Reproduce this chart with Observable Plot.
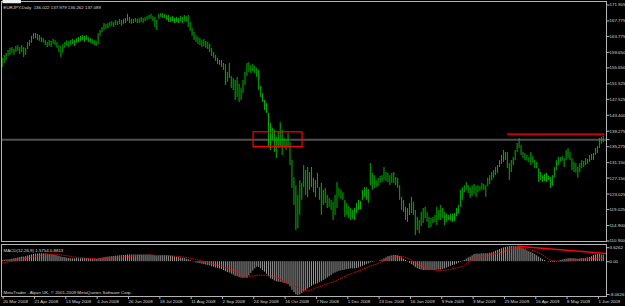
<!DOCTYPE html>
<html><head><meta charset="utf-8">
<script src="https://cdn.jsdelivr.net/npm/d3@7"></script>
<script src="https://cdn.jsdelivr.net/npm/@observablehq/plot@0.6"></script>
<style>
html,body{margin:0;padding:0;background:#000;}
#chart{position:relative;width:625px;height:306px;background:#000;overflow:hidden;}
#chart svg{position:absolute;left:0;display:block;overflow:visible;}
</style></head><body><div id="chart"></div>
<script>
const symbolTitle = "EURJPY,Daily  136.022 137.979 136.262 137.089";
const macdTitle = "MACD(12,26,9) 1.5754 0.8813";
const copyright = "MetaTrader - Alpari UK, \u00a9 2001-2009 MetaQuotes Software Corp.";

const highs = [
158.1,158.9,159.4,160.1,160.7,160.9,160.4,161.2,161.4,160.9,
161.4,160.9,160.7,162.2,162.7,163.8,164.5,164.5,164.3,164.0,
163.5,163.2,162.7,162.2,162.7,162.5,163.0,162.7,162.2,161.4,
161.2,161.7,162.2,162.7,162.5,162.7,163.0,162.7,163.2,163.5,
163.8,164.0,163.8,164.0,163.5,163.2,163.0,162.7,162.5,164.5,
165.3,166.1,167.1,166.9,167.1,167.4,167.6,167.4,167.9,167.6,
168.2,167.9,168.2,168.4,169.5,168.7,168.2,168.2,168.4,168.2,
168.4,168.7,168.4,168.7,168.9,169.2,169.5,168.9,168.7,167.9,
169.5,169.7,169.7,169.5,169.2,169.2,168.7,168.9,168.4,168.7,
168.4,168.9,168.7,169.2,168.9,169.2,167.4,165.8,164.8,164.0,
163.5,163.2,162.7,163.0,162.5,162.2,161.7,160.7,159.6,158.9,
158.1,157.6,157.6,156.8,156.5,154.5,156.8,153.4,152.9,152.4,
153.2,151.4,150.3,152.4,154.5,156.8,157.0,156.3,156.5,156.0,
155.5,155.0,150.8,149.0,147.2,146.4,143.9,141.3,140.0,139.5,
137.7,138.9,141.5,139.5,137.4,136.9,138.7,136.4,131.7,127.3,
125.2,122.7,126.5,125.8,130.4,129.1,129.9,128.6,129.9,127.1,
126.5,128.4,124.7,125.8,124.0,124.5,122.7,121.9,121.4,120.9,
122.7,126.0,124.5,124.0,123.4,121.4,120.6,119.8,119.3,118.8,
119.3,120.6,121.4,121.1,124.0,124.7,124.7,124.2,130.9,128.4,
127.8,126.5,127.1,127.6,127.8,129.9,128.6,128.4,127.8,128.4,
128.6,127.3,127.1,125.2,122.2,121.4,119.6,119.3,120.6,122.2,
120.9,118.8,117.0,116.2,118.3,119.3,119.6,118.3,117.0,116.7,
117.0,117.5,119.6,118.8,120.1,119.3,118.3,117.8,117.5,117.8,
117.8,118.0,119.3,120.1,124.0,124.7,125.2,126.0,125.2,124.7,
125.2,125.5,125.0,125.2,125.0,125.8,125.5,125.2,127.1,127.8,
128.6,129.1,129.9,130.4,131.7,133.0,134.3,133.8,133.8,130.9,
131.7,132.5,134.3,136.1,137.4,135.6,133.8,133.5,133.0,132.5,
133.8,132.7,131.7,131.2,129.6,128.6,127.8,128.1,128.4,127.6,
127.3,127.8,129.9,131.7,132.5,132.5,132.7,132.2,134.3,134.8,
133.8,132.2,131.2,130.9,129.9,130.9,131.7,131.5,132.2,132.0,
133.0,133.3,133.5,134.8,135.3,137.4,137.7,137.979];

const lows = [
155.7,156.8,157.6,158.6,158.9,159.4,158.9,159.6,159.9,159.1,
159.6,158.3,158.9,160.4,161.2,162.0,163.0,163.2,162.7,162.5,
162.2,162.0,161.4,160.9,161.2,160.9,161.7,161.4,160.7,159.6,
158.3,159.4,160.7,161.2,160.9,161.4,161.7,161.2,162.0,162.2,
162.5,162.7,162.2,162.7,162.2,162.0,161.7,161.4,161.2,161.7,
163.8,164.8,165.3,165.6,165.8,166.1,166.4,166.1,166.6,166.6,
166.9,166.4,166.9,167.1,167.6,167.1,166.9,167.1,167.4,167.1,
167.1,167.4,167.1,167.6,167.9,168.2,168.2,167.6,166.1,165.3,
168.2,168.7,168.4,168.4,167.9,167.4,167.4,167.6,167.1,167.4,
167.1,167.6,167.1,167.6,167.4,166.1,165.1,163.8,162.7,162.2,
161.7,161.4,160.9,161.2,160.7,160.4,159.6,158.6,158.1,157.3,
156.5,156.3,155.8,155.0,151.1,151.9,152.9,150.3,149.8,147.2,
148.0,146.7,147.2,149.0,151.1,153.4,154.5,154.2,154.7,154.2,
153.2,149.8,148.0,146.7,144.6,143.9,135.1,134.3,136.9,133.8,
132.2,134.8,135.1,133.0,134.8,134.3,134.8,130.4,124.5,120.1,
113.6,114.1,117.5,121.4,124.7,122.7,122.1,124.0,124.7,123.4,
122.2,124.5,121.4,117.5,120.1,120.6,119.3,119.6,118.8,116.2,
117.5,119.3,122.2,121.6,121.4,117.0,117.5,116.7,116.2,116.5,
116.2,118.0,118.8,119.0,121.4,122.2,121.4,120.6,125.2,124.0,
124.5,124.7,125.0,125.8,126.0,126.5,126.3,126.0,125.2,125.8,
125.8,125.2,124.5,121.4,118.8,118.3,116.2,115.7,117.5,118.0,
117.5,112.3,113.6,112.8,114.6,115.4,116.7,115.7,114.1,114.4,
115.4,115.7,114.9,116.2,116.2,116.7,114.9,115.7,116.2,116.0,
115.7,116.0,117.2,117.8,119.6,121.4,123.4,124.0,123.2,121.9,
122.4,122.9,122.2,123.4,123.7,124.0,124.0,122.2,125.0,125.5,
126.5,127.1,127.8,128.4,129.9,130.7,131.2,131.7,129.6,126.5,
128.6,130.4,131.7,133.8,134.8,133.0,132.2,131.7,131.5,131.2,
130.4,130.9,129.6,129.6,126.0,126.5,126.0,126.3,126.0,126.5,
124.5,125.0,127.3,129.1,130.4,131.2,131.5,129.9,131.7,132.2,
131.7,129.1,128.6,128.4,127.1,128.6,129.6,129.9,130.4,130.7,
131.2,131.7,131.7,133.0,133.5,134.8,135.9,136.262];

const macdMain = [
0.3,0.35,0.4,0.4,0.5,0.6,0.7,0.8,0.9,1.0,
1.1,1.1,1.2,1.4,1.5,1.6,1.7,1.8,1.85,1.9,
1.9,1.9,1.85,1.8,1.7,1.65,1.6,1.5,1.4,1.25,
1.1,1.0,0.95,0.85,0.75,0.7,0.7,0.7,0.75,0.7,
0.7,0.75,0.7,0.7,0.7,0.65,0.65,0.6,0.55,0.65,
0.75,0.85,0.95,1.05,1.1,1.15,1.2,1.25,1.3,1.35,
1.4,1.45,1.5,1.5,1.6,1.6,1.6,1.6,1.6,1.6,
1.6,1.6,1.6,1.6,1.6,1.6,1.55,1.5,1.4,1.3,
1.35,1.4,1.45,1.45,1.4,1.35,1.3,1.25,1.15,1.05,
0.95,0.9,0.8,0.75,0.6,0.45,0.3,0.1,-0.1,-0.3,
-0.4,-0.5,-0.6,-0.7,-0.8,-0.9,-1.0,-1.2,-1.35,-1.5,
-1.6,-1.75,-1.9,-2.1,-2.4,-2.6,-2.7,-3.0,-3.2,-3.5,
-3.6,-3.8,-3.9,-4.0,-3.9,-4.0,-3.4,-2.8,-2.2,-1.7,
-1.3,-1.4,-1.7,-2.1,-2.5,-3.0,-3.6,-4.1,-4.3,-4.6,
-4.8,-4.9,-4.9,-5.0,-5.2,-5.3,-5.5,-6.0,-6.8,-7.4,
-7.9,-8.0626,-7.9,-7.6,-7.2,-6.9,-6.5,-6.2,-5.9,-5.6,
-5.4,-5.3,-5.0,-4.8,-4.5,-4.2,-3.9,-3.6,-3.3,-2.9,
-2.7,-2.5,-2.3,-2.2,-2.1,-2.0,-1.9,-1.8,-1.7,-1.7,
-1.7,-1.6,-1.5,-1.3,-1.1,-0.9,-0.7,-0.5,-0.3,-0.2,
-0.1,0.0,0.0,0.2,0.4,0.7,0.9,1.2,1.3,1.4,
1.5,1.5,1.4,1.2,0.9,0.6,0.3,-0.1,-0.4,-0.7,
-1.0,-1.4,-1.7,-1.9,-2.0,-2.1,-2.1,-2.1,-2.1,-2.1,
-2.1,-2.1,-2.0,-2.0,-2.0,-1.9,-1.7,-1.5,-1.3,-1.1,
-0.9,-0.8,-0.6,-0.4,-0.2,0.1,0.3,0.6,0.9,1.1,
1.4,1.7,1.8,1.8,1.8,1.9,1.9,1.9,1.9,2.0,
2.1,2.3,2.5,2.7,2.9,3.1,3.3,3.4,3.5,3.6,
3.6262,3.6,3.6,3.5,3.4,3.3,3.1,2.9,2.6,2.4,
2.2,1.96,1.7,1.4,1.1,0.8,0.5,0.3,0.0,-0.1,
-0.2,-0.2,-0.2,-0.1,0.1,0.3,0.4,0.5,0.6,0.7,
0.75,0.7,0.7,0.65,0.6,0.65,0.7,0.7,0.8,0.9,
1.0,1.2,1.5,1.6,1.7,1.8,1.6,1.5754];

const signalBars = [0,4,8,12,16,20,24,28,32,36,40,44,48,52,56,60,64,68,72,76,80,84,88,92,96,100,
104,108,112,116,120,124,128,132,136,140,144,148,152,156,160,164,168,172,176,180,184,188,192,196,200,
204,208,212,216,220,224,228,232,236,240,244,248,252,256,260,264,268,272,276,280,284,288,292,296,300,304,307];
const signalValues = [-0.3,0.0,0.4,0.8,1.2,1.5,1.7,1.7,1.5,1.2,0.95,0.8,0.7,0.7,0.85,1.05,1.25,1.4,1.5,1.55,1.5,1.45,1.35,1.15,0.85,0.4,
-0.1,-0.6,-1.1,-1.7,-2.4,-3.5,-3.4,-3.2,-3.3,-3.7,-4.7,-5.5,-6.4,-6.95,-6.3,-5.6,-5.0,-4.2,-3.3,-2.6,-1.8,-1.1,-0.4,0.5,1.1,
1.24,0.6,-0.5,-1.5,-1.9,-2.1,-1.9,-1.5,-0.9,0.5,1.1,1.5,1.9,2.4,3.1,3.3,3.1,2.5,1.6,0.4,0.1,0.05,0.3,0.6,0.7,0.8,0.8813];

const dateLabels = ["20 Mar 2008","21 Apr 2008","13 May 2008","4 Jun 2008","26 Jun 2008","18 Jul 2008","11 Aug 2008",
"2 Sep 2008","24 Sep 2008","16 Oct 2008","7 Nov 2008","1 Dec 2008","23 Dec 2008","16 Jan 2009","9 Feb 2009",
"3 Mar 2009","25 Mar 2009","16 Apr 2009","8 May 2009","1 Jun 2009"];
const dateLabelBars = [0,16,32,48,64,80,96,112,128,144,160,176,192,208,224,240,256,272,288,304];

const priceTicks = [171.905,167.775,163.775,159.650,155.650,151.525,147.525,143.400,139.275,135.275,131.150,127.150,123.025,119.025,114.900,110.900];
const macdTopTick = [3.6262];
const macdMidTick = [0];
const macdBottomTick = [-8.0626];
const lastPrice = 137.089;

// annotations drawn by hand on the original chart
const highlightBox = [{from: 128.4, to: 153.4, low: 135.2, high: 139.0}];
const resistanceLine = [{from: 258.1, to: 307.9, price: 138.5}];
const macdTrendBars = [263.2, 308.5];
const macdTrendValues = [3.68, 1.95];

// ---------- build ----------
const bars = highs.map((h, i) => ({i, high: h, low: lows[i]}));
const macdRows = macdMain.map((v, i) => ({i, v}));
const signalRows = signalBars.map((b, k) => ({i: b, v: signalValues[k]}));
const trendRows = macdTrendBars.map((b, k) => ({i: b, v: macdTrendValues[k]}));
const labelByBar = new Map(dateLabelBars.map((b, k) => [b, dateLabels[k]]));

const FONT = "'Liberation Sans', Arial, sans-serif";
const FS = 4.4;
const TXT = "#d8d8d8";
const AX = "#b4b4b4";
const xScale = {domain: [0, 307], range: [1.67, 602.8], axis: null, label: null};
const macdFmt = d => d === 0 ? "0.00" : d.toFixed(4);
const macdAxisOpts = {anchor: "right", label: null, tickSize: 2.5, tickPadding: 0.5, stroke: AX, fill: TXT, textAnchor: "start", tickFormat: macdFmt};

const main = Plot.plot({
  width: 625, height: 242,
  marginLeft: 1, marginTop: 1, marginRight: 19, marginBottom: 1,
  style: {background: "transparent", color: TXT, fontFamily: FONT, fontSize: FS + "px"},
  x: xScale,
  y: {domain: [110.9, 171.905], range: [240.5, 4.5], label: null},
  marks: [
    Plot.ruleY([lastPrice], {stroke: "#505050", strokeWidth: 2}),
    Plot.ruleX(bars, {x: "i", y1: "low", y2: "high", stroke: "#00b400", strokeWidth: 1}),
    Plot.rect(highlightBox, {x1: "from", x2: "to", y1: "low", y2: "high", stroke: "#ff0000", fill: "none", strokeWidth: 1.2}),
    Plot.ruleY(resistanceLine, {x1: "from", x2: "to", y: "price", stroke: "#c80000", strokeWidth: 2}),
    Plot.frame({stroke: AX}),
    Plot.axisY(priceTicks, {anchor: "right", label: null, tickSize: 2.5, tickPadding: 0.5, stroke: AX, fill: TXT,
      tickFormat: d => d.toFixed(3), textAnchor: "start"}),
    Plot.axisY([lastPrice], {anchor: "right", label: null, tickSize: 2.5, tickPadding: 0.5, stroke: AX, fill: "#000",
      tickFormat: d => d.toFixed(3), textAnchor: "start"}),
    Plot.text([symbolTitle], {frameAnchor: "top-left", dx: 2, dy: 4, fill: TXT, fontSize: FS})
  ]
});

const macd = Plot.plot({
  width: 625, height: 65,
  marginLeft: 1, marginTop: 3, marginRight: 19, marginBottom: 10,
  style: {background: "transparent", color: TXT, fontFamily: FONT, fontSize: FS + "px"},
  x: xScale,
  y: {domain: [-8.0626, 3.6262], range: [54, 5], label: null},
  marks: [
    Plot.ruleX(macdRows, {x: "i", y1: 0, y2: "v", stroke: "#a8a8a8", strokeWidth: 0.9}),
    Plot.line(signalRows, {x: "i", y: "v", stroke: "#ff0000", strokeWidth: 0.9, strokeDasharray: "0.9 1.5", curve: "monotone-x"}),
    Plot.line(trendRows, {x: "i", y: "v", stroke: "#ff0000", strokeWidth: 1.5}),
    Plot.frame({stroke: AX}),
    Plot.axisY(macdTopTick, {...macdAxisOpts, dy: 1.2}),
    Plot.axisY(macdMidTick, macdAxisOpts),
    Plot.axisY(macdBottomTick, {...macdAxisOpts, dy: -1}),
    Plot.axisX(dateLabelBars, {anchor: "bottom", label: null, tickSize: 3, tickPadding: 0.8, stroke: AX, fill: TXT,
      textAnchor: "start", dx: 1, tickFormat: d => labelByBar.get(d)}),
    Plot.text([macdTitle], {frameAnchor: "top-left", dx: 2, dy: 4, fill: TXT, fontSize: FS}),
    Plot.text([copyright], {frameAnchor: "bottom-left", dx: 2, dy: -3, fill: TXT, fontSize: FS})
  ]
});

const root = document.getElementById("chart");
main.style.top = "0px";
macd.style.top = "241px";
root.appendChild(main);
root.appendChild(macd);

// light background box behind the current price label
const label = [...main.querySelectorAll("text")].find(t => t.textContent === lastPrice.toFixed(3));
if (label) {
  const bb = label.getBBox();
  const r = document.createElementNS("http://www.w3.org/2000/svg", "rect");
  r.setAttribute("x", bb.x - 1);
  r.setAttribute("y", bb.y - 0.3);
  r.setAttribute("width", bb.width + 2);
  r.setAttribute("height", bb.height + 0.6);
  r.setAttribute("fill", "#f0f0f0");
  label.parentNode.insertBefore(r, label);
}
</script>
</body></html>
